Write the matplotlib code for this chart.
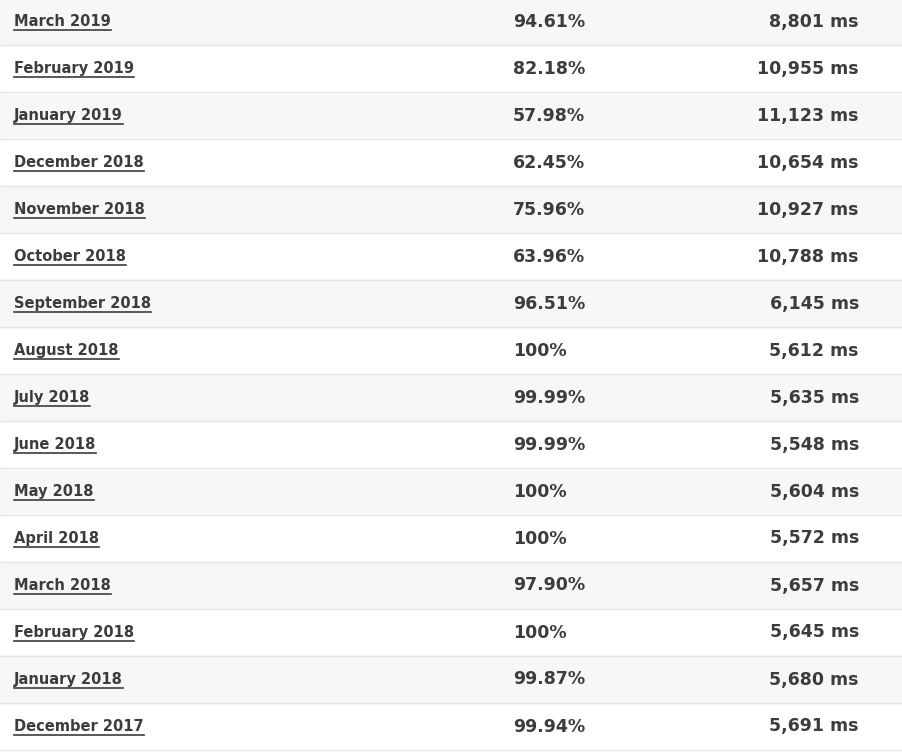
import matplotlib
matplotlib.use("Agg")
import matplotlib.pyplot as plt
from matplotlib.patches import Rectangle

months = ["March 2019","February 2019","January 2019","December 2018","November 2018",
          "October 2018","September 2018","August 2018","July 2018","June 2018","May 2018",
          "April 2018","March 2018","February 2018","January 2018","December 2017"]
uptime = ["94.61%","82.18%","57.98%","62.45%","75.96%","63.96%","96.51%","100%",
          "99.99%","99.99%","100%","100%","97.90%","100%","99.87%","99.94%"]
resp = ["8,801 ms","10,955 ms","11,123 ms","10,654 ms","10,927 ms","10,788 ms","6,145 ms",
        "5,612 ms","5,635 ms","5,548 ms","5,604 ms","5,572 ms","5,657 ms","5,645 ms",
        "5,680 ms","5,691 ms"]

W, H = 903, 753
fig = plt.figure(figsize=(W/100, H/100), dpi=100)
ax = fig.add_axes([0, 0, 1, 1])
ax.set_xlim(0, W); ax.set_ylim(H, 0); ax.axis("off")

rh = 47
col = "#3c3c3c"
texts = []
for i, (m, u, r) in enumerate(zip(months, uptime, resp)):
    y0 = i * rh - 2
    if i % 2 == 0:
        ax.add_patch(Rectangle((0, y0), W, rh, color="#f7f7f7", zorder=0))
    ax.plot([0, W], [y0 + rh, y0 + rh], color="#e6e6e6", lw=1, zorder=1)
    yc = y0 + rh / 2
    t = ax.text(14, yc, m, fontsize=10.5, fontweight="bold", color=col, va="center", ha="left")
    texts.append((t, yc))
    ax.text(513, yc, u, fontsize=12.5, fontweight="bold", color=col, va="center", ha="left")
    ax.text(859, yc, r, fontsize=12.5, fontweight="bold", color=col, va="center", ha="right")

fig.canvas.draw()
rend = fig.canvas.get_renderer()
inv = ax.transData.inverted()
for t, yc in texts:
    bb = t.get_window_extent(rend)
    (x0, _), (x1, _) = inv.transform([(bb.x0, bb.y0), (bb.x1, bb.y0)])
    ax.plot([x0, x1], [yc + 8, yc + 8], color=col, lw=1.2)

fig.savefig("out.png", dpi=100)
